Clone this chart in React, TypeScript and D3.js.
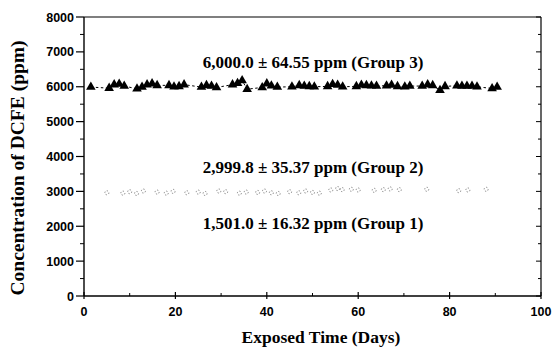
import React from "react";
import * as d3 from "d3";

const W = 553;
const H = 350;

const g3Days = [1.5, 5.5, 6.6, 7.7, 8.8, 11.6, 12.7, 13.8, 14.9, 16, 18.6, 19.7, 20.8, 21.9, 25.7, 26.8, 27.9, 29, 32.5, 33.6, 34.6, 35.7, 39, 40, 41, 42.3, 45.5, 47.1, 48.2, 49.3, 50.4, 53.3, 54.4, 55.5, 56.6, 59.6, 60.7, 61.8, 62.9, 64, 66.2, 67.3, 68.6, 70.2, 71.3, 74, 75.2, 76.3, 77.9, 79, 81.6, 82.7, 83.8, 84.9, 86, 89.3, 90.4];
const g3Values = [5990, 5960, 6060, 6080, 6020, 5940, 5990, 6060, 6090, 6040, 6040, 6000, 6010, 6060, 5990, 6040, 6020, 5980, 6060, 6100, 6180, 5930, 5980, 6090, 6030, 5990, 6000, 6040, 6020, 6010, 6000, 6010, 6070, 6050, 6000, 6010, 6050, 6040, 6030, 6020, 6030, 6050, 6010, 6000, 6020, 6020, 6060, 6040, 5900, 6010, 6030, 6020, 6020, 6020, 6000, 5950, 5990];

const g2Days = [5, 8.5, 10, 11.5, 13, 16, 18, 19.5, 22.5, 25, 26.5, 29.5, 31, 34, 35.5, 38, 39.5, 41, 42.5, 45, 47, 48.5, 50, 51.5, 54, 55.5, 56.5, 58.5, 60, 63.5, 65.5, 67, 69, 75, 82, 84, 88];
const g2Values = [2960, 2950, 2990, 2940, 3010, 2980, 2950, 3000, 2960, 2980, 2940, 3010, 2990, 2950, 2980, 2970, 3010, 2960, 2940, 2990, 2960, 3010, 2970, 2950, 3040, 3080, 3050, 3060, 3040, 3030, 3050, 3070, 3050, 3060, 3020, 3040, 3060];

const yTicks = [0, 1000, 2000, 3000, 4000, 5000, 6000, 7000, 8000];
const xTicks = [0, 20, 40, 60, 80, 100];

const labels = [
  { text: "6,000.0 \u00b1 64.55 ppm (Group 3)", value: 6540 },
  { text: "2,999.8 \u00b1 35.37 ppm (Group 2)", value: 3530 },
  { text: "1,501.0 \u00b1 16.32 ppm (Group 1)", value: 1920 },
];

export default function App() {
  const left = 84;
  const right = 541;
  const top = 17;
  const bottom = 296;
  const x = d3.scaleLinear().domain([0, 100]).range([left, right]);
  const y = d3.scaleLinear().domain([0, 8000]).range([bottom, top]);

  const g3 = g3Days.map((d, i) => [d, g3Values[i]] as [number, number]);
  const g2 = g2Days.map((d, i) => [d, g2Values[i]] as [number, number]);
  const line = d3.line<[number, number]>().x((d) => x(d[0])).y((d) => y(d[1]));
  const tri = d3.symbol().type(d3.symbolTriangle).size(40)();

  const yMinor = d3.range(500, 8000, 1000);
  const xMinor = d3.range(10, 100, 20);
  const axisFont = "'Liberation Sans', Arial, sans-serif";
  const serif = "'Liberation Serif', 'Times New Roman', serif";

  return (
    <svg width={W} height={H} style={{ position: "absolute", left: 0, top: 0, background: "#fff" }}>
      <rect x={0} y={0} width={W} height={H} fill="#fff" />
      <line x1={left} x2={right} y1={top} y2={top} stroke="#000" strokeWidth={1.2} />
      <line x1={left} x2={right} y1={bottom} y2={bottom} stroke="#000" strokeWidth={1.4} />
      <line x1={left} x2={left} y1={top} y2={bottom} stroke="#000" strokeWidth={1.4} />
      <line x1={right} x2={right} y1={top} y2={bottom} stroke="#000" strokeWidth={1.2} />

      {yTicks.map((t) => (
        <g key={"y" + t}>
          <line x1={left - 8} x2={left} y1={y(t)} y2={y(t)} stroke="#000" strokeWidth={1.2} />
          <line x1={right - 5} x2={right} y1={y(t)} y2={y(t)} stroke="#000" strokeWidth={1} />
          <text x={left - 10} y={y(t) + 4.5} textAnchor="end" fontFamily={axisFont} fontWeight="bold" fontSize={12.5}>
            {t}
          </text>
        </g>
      ))}
      {yMinor.map((t) => (
        <g key={"ym" + t}>
          <line x1={left - 4} x2={left} y1={y(t)} y2={y(t)} stroke="#000" strokeWidth={1} />
          <line x1={right - 3} x2={right} y1={y(t)} y2={y(t)} stroke="#000" strokeWidth={1} />
        </g>
      ))}

      {xTicks.map((t) => (
        <g key={"x" + t}>
          <line x1={x(t)} x2={x(t)} y1={bottom - 4} y2={bottom + 3} stroke="#000" strokeWidth={1.2} />
          <text x={x(t)} y={316} textAnchor="middle" fontFamily={axisFont} fontWeight="bold" fontSize={12.5}>
            {t}
          </text>
        </g>
      ))}
      {xMinor.map((t) => (
        <line key={"xm" + t} x1={x(t)} x2={x(t)} y1={bottom - 3} y2={bottom} stroke="#000" strokeWidth={1} />
      ))}

      <text x={321} y={343} textAnchor="middle" fontFamily={serif} fontWeight="bold" fontSize={17.5}>
        Exposed Time (Days)
      </text>
      <text
        transform={`translate(24, ${168}) rotate(-90)`}
        textAnchor="middle"
        fontFamily={serif}
        fontWeight="bold"
        fontSize={19.5}
      >
        Concentration of DCFE (ppm)
      </text>

      {g2.map((d, i) => (
        <circle
          key={"g2" + i}
          cx={x(d[0])}
          cy={y(d[1])}
          r={2}
          fill="none"
          stroke="#777"
          strokeWidth={0.9}
          strokeDasharray="1.2 1.6"
        />
      ))}

      <path d={line(g3) || ""} fill="none" stroke="#000" strokeWidth={1} strokeDasharray="2.5 2.5" />
      {g3.map((d, i) => (
        <path key={"g3" + i} d={tri || ""} transform={`translate(${x(d[0])},${y(d[1])})`} fill="#000" />
      ))}

      {labels.map((l) => (
        <text key={l.text} x={313} y={y(l.value)} textAnchor="middle" fontFamily={serif} fontWeight="bold" fontSize={17}>
          {l.text}
        </text>
      ))}
    </svg>
  );
}
